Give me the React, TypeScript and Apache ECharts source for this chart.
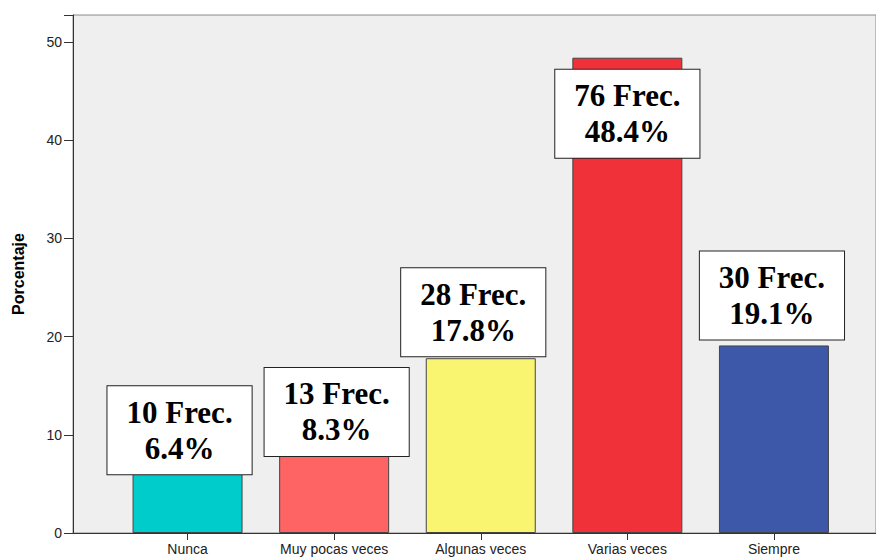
import React, { useEffect, useRef } from "react";
import * as echarts from "echarts";

const categories = ["Nunca", "Muy pocas veces", "Algunas veces", "Varias veces", "Siempre"];
const percentages = [6.4, 8.3, 17.8, 48.4, 19.1];
const frequencies = [10, 13, 28, 76, 30];
const barColors = ["#00CCCC", "#FF6464", "#FAF571", "#F0313A", "#3D58A8"];
const yTicks = [0, 10, 20, 30, 40, 50];

export default function App() {
  const ref = useRef<HTMLDivElement>(null);
  useEffect(() => {
    if (!ref.current) return;
    const chart = echarts.init(ref.current, null, { renderer: "svg" });
    const yMax = 52.75;
    const labelPlacement = [
      { position: "top", distance: -4, offset: [-8, 0] },
      { position: "top", distance: -4.5, offset: [2.5, 0] },
      { position: "top", distance: 2, offset: [-7.5, 0] },
      { position: "insideTop", distance: 12, offset: [0, 0] },
      { position: "top", distance: 6, offset: [-2, 0] },
    ];
    const sans = "Arial, 'Liberation Sans', sans-serif";
    chart.setOption({
      animation: false,
      backgroundColor: "#ffffff",
      grid: [
        {
          left: 73,
          right: -3,
          top: 15,
          bottom: 24,
          show: true,
          backgroundColor: "#EFEFEF",
          borderColor: "#8A8A8A",
          borderWidth: 1,
        },
        { left: 114.25, right: 28.75, top: 15, bottom: 24 },
      ],
      xAxis: [
        {
          gridIndex: 0,
          type: "value",
          min: 0,
          max: 1,
          axisLine: { show: true, lineStyle: { color: "#333333", width: 1 } },
          axisTick: { show: false },
          axisLabel: { show: false },
          splitLine: { show: false },
        },
        {
          gridIndex: 1,
          type: "category",
          data: categories,
          axisLine: { show: false },
          axisTick: { show: true, alignWithLabel: true, length: 7, lineStyle: { color: "#333333" } },
          axisLabel: { color: "#222222", fontSize: 14, fontFamily: sans, margin: 9, interval: 0 },
        },
      ],
      yAxis: [
        {
          gridIndex: 0,
          type: "value",
          min: 0,
          max: yMax,
          interval: 10,
          axisLine: { show: true, lineStyle: { color: "#333333", width: 1 } },
          axisTick: { show: true, length: 9, lineStyle: { color: "#333333" } },
          axisLabel: {
            color: "#222222",
            fontSize: 14,
            fontFamily: sans,
            margin: 11,
            formatter: (v: number) => (yTicks.includes(v) ? String(v) : ""),
          },
          splitLine: { show: false },
          name: "Porcentaje",
          nameLocation: "middle",
          nameGap: 47,
          nameTextStyle: { fontWeight: "bold", fontSize: 16, color: "#000000", fontFamily: sans },
        },
        {
          gridIndex: 1,
          type: "value",
          min: 0,
          max: yMax,
          show: false,
        },
      ],
      series: [
        {
          type: "bar",
          xAxisIndex: 1,
          yAxisIndex: 1,
          barWidth: 110,
          data: percentages.map((v, i) => ({
            value: v,
            itemStyle: { color: barColors[i], borderColor: "#444444", borderWidth: 1 },
            label: {
              show: true,
              position: labelPlacement[i].position,
              distance: labelPlacement[i].distance,
              offset: labelPlacement[i].offset,
              formatter: `${frequencies[i]} Frec.\n${v.toFixed(1)}%`,
              fontFamily: "'Liberation Serif', 'Times New Roman', serif",
              fontWeight: "bold",
              fontSize: 31,
              lineHeight: 36,
              color: "#000000",
              backgroundColor: "#ffffff",
              borderColor: "#222222",
              borderWidth: 1,
              padding: [8, 19, 8, 19],
              align: "center",
            },
          })),
        },
      ],
    });
    return () => chart.dispose();
  }, []);
  return <div ref={ref} style={{ width: 876, height: 557, position: "absolute", left: 0, top: 0 }} />;
}
